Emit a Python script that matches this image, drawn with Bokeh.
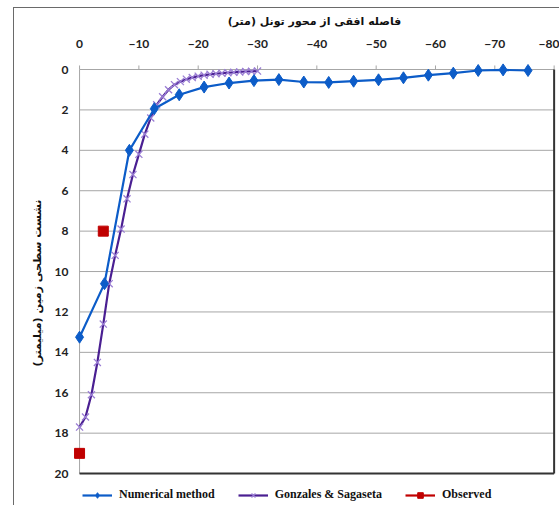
from bokeh.plotting import figure
from bokeh.models import Range1d, FixedTicker, Legend, LegendItem, ColumnDataSource
from bokeh.embed import file_html
from bokeh.resources import INLINE

# Horizontal distance from tunnel axis (m) and surface settlement (mm)
num_x = [0, -4.2, -8.4, -12.6, -16.8, -21.0, -25.2, -29.4, -33.6, -37.8,
         -42.0, -46.2, -50.4, -54.6, -58.8, -63.0, -67.2, -71.4, -75.6]
num_y = [13.25, 10.6, 4.0, 1.94, 1.25, 0.87, 0.67, 0.55, 0.5, 0.62,
         0.64, 0.58, 0.51, 0.41, 0.28, 0.18, 0.05, 0.02, 0.05]

gs_x = [0, -1, -2, -3, -4, -5, -6, -7, -8, -9, -10, -11, -12, -13, -14, -15,
        -16, -17, -18, -19, -20, -21, -22, -23, -24, -25, -26, -27, -28, -29, -30]
gs_y = [17.7, 17.2, 16.1, 14.5, 12.6, 10.6, 9.2, 7.9, 6.4, 5.2, 4.2, 3.2, 2.4,
        1.75, 1.35, 1.0, 0.75, 0.6, 0.48, 0.4, 0.33, 0.28, 0.24, 0.21, 0.18,
        0.16, 0.14, 0.12, 0.1, 0.09, 0.08]

obs_x = [-4.0, 0]
obs_y = [8.0, 19.0]

x_ticks = [0, -10, -20, -30, -40, -50, -60, -70, -80]
y_ticks = [0, 2, 4, 6, 8, 10, 12, 14, 16, 18, 20]

x_title = "فاصله افقی از محور تونل (متر)"
y_title = "نشست سطحی زمین (میلیمتر)"

BLUE = "#0c5cc8"
PURPLE = "#4a1f92"
PURPLE_MK = "#9b7fd4"
RED = "#c00000"
GRID = "#a6a6a6"
EDGE = "#333333"

X0, X1 = x_ticks[0], x_ticks[-1]
Y0, Y1 = y_ticks[0], y_ticks[-1]

# The frame is a little larger than the 0..-80 / 0..20 plot area so that
# markers on its edges are drawn whole and the key fits underneath.
p = figure(width=546, height=498, margin=(7, 0, 0, 13),
           x_range=Range1d(1.19, -80.4), y_range=Range1d(21.63, -0.495),
           x_axis_location="above", output_backend="svg",
           toolbar_location=None, min_border_left=58, min_border_right=4,
           min_border_top=51, min_border_bottom=0)
p.styles = {"border-top": "1px solid #6a6a6a", "border-left": "1px solid #6a6a6a"}
p.outline_line_color = None
p.background_fill_color = "white"
p.border_fill_color = "white"

p.xaxis.ticker = FixedTicker(ticks=x_ticks)
p.yaxis.ticker = FixedTicker(ticks=y_ticks)
for ax in (p.xaxis[0], p.yaxis[0]):
    ax.axis_line_color = None
    ax.major_tick_line_color = None
    ax.minor_tick_line_color = None
    ax.major_label_text_font = "Lato"
    ax.major_label_text_font_style = "bold"
    ax.major_label_text_font_size = "12px"
    ax.major_label_text_color = "#222222"
    ax.axis_label_text_font = "DejaVu Sans"
    ax.axis_label_text_font_style = "bold"
    ax.axis_label_text_font_size = "11px"
    ax.axis_label_text_color = "#111111"

p.xaxis.major_label_standoff = 6
p.xaxis.axis_label = x_title
p.xaxis.axis_label_standoff = 9
p.yaxis.major_label_standoff = -2
p.yaxis.axis_label = y_title
p.yaxis.axis_label_standoff = 8
p.xgrid.grid_line_color = None
p.ygrid.grid_line_color = None

# horizontal gridlines across the plot area
p.segment(x0=[X0] * len(y_ticks), x1=[X1] * len(y_ticks), y0=y_ticks, y1=y_ticks,
          line_color=GRID, line_width=1)
# value axis line and distance-axis tick marks
p.segment(x0=[X0], x1=[X0], y0=[Y0], y1=[Y1], line_color=GRID, line_width=1)
p.segment(x0=x_ticks, x1=x_ticks, y0=[Y0] * len(x_ticks), y1=[-0.2] * len(x_ticks),
          line_color=GRID, line_width=1)
# dark right / bottom edges of the plot area
p.segment(x0=[X1, X0], x1=[X1, X1], y0=[Y0, Y1], y1=[Y1, Y1],
          line_color=EDGE, line_width=2)

num_src = ColumnDataSource(dict(x=num_x, y=num_y))
gs_src = ColumnDataSource(dict(x=gs_x, y=gs_y))
obs_src = ColumnDataSource(dict(x=obs_x, y=obs_y))

gs_line = p.line("x", "y", source=gs_src, line_color=PURPLE, line_width=2.2)
gs_mk = p.scatter("x", "y", source=gs_src, marker="x", size=10,
                  line_color=PURPLE_MK, line_width=1.3)
num_line = p.line("x", "y", source=num_src, line_color=BLUE, line_width=2.2)
num_mk = p.scatter("x", "y", source=num_src, marker="diamond", size=12,
                   fill_color=BLUE, line_color=BLUE)
obs_mk = p.scatter("x", "y", source=obs_src, marker="square", size=10,
                   fill_color=RED, line_color=RED)
# single-point line: draws nothing in the plot, gives the key its red stroke
obs_key = p.line(x=obs_x[:1], y=obs_y[:1], line_color=RED, line_width=2.2)

legend = Legend(items=[
    LegendItem(label="Numerical method", renderers=[num_line, num_mk]),
    LegendItem(label="Gonzales & Sagaseta", renderers=[gs_line, gs_mk]),
    LegendItem(label="Observed", renderers=[obs_key, obs_mk]),
], orientation="horizontal", location=(10, 4))
legend.label_text_font = "Liberation Serif"
legend.label_text_font_style = "bold"
legend.label_text_font_size = "12px"
legend.label_text_color = "#111111"
legend.glyph_width = 30
legend.glyph_height = 14
legend.label_height = 14
legend.label_standoff = 7
legend.spacing = 23
legend.padding = 4
legend.margin = 0
legend.border_line_color = None
legend.background_fill_alpha = 0
p.add_layout(legend, "center")

open("out.html", "w").write(file_html(p, INLINE))
